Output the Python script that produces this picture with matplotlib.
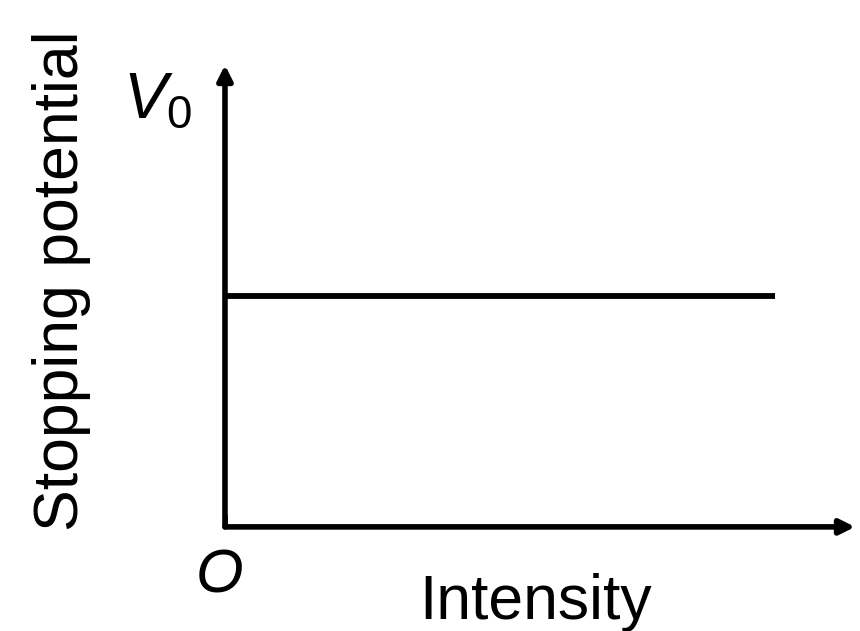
import matplotlib.pyplot as plt

plt.rcParams['font.family'] = ['Liberation Sans', 'DejaVu Sans']
plt.rcParams['mathtext.fontset'] = 'custom'
plt.rcParams['mathtext.it'] = 'Liberation Sans:italic'
plt.rcParams['mathtext.rm'] = 'Liberation Sans'

# stopping potential does not depend on intensity
intensita = [0.0, 1.0]
v0 = [0.5, 0.5]

fig = plt.figure(figsize=(8.6, 6.31), dpi=100)
fig.patch.set_facecolor('white')
ax = fig.add_axes([0.2616, 0.165, 0.7326, 0.732])
ax.set_xlim(0, 1.145)
ax.set_ylim(0, 1)
ax.axis('off')

ax.plot(intensita, v0, color='black', lw=4.2, solid_capstyle='butt')

# assi con freccia
ax.annotate('', xy=(0, 1.0), xytext=(0, 0), xycoords='axes fraction',
            arrowprops=dict(arrowstyle='-|>', color='black', lw=4.0,
                            mutation_scale=22, shrinkA=0, shrinkB=0))
ax.annotate('', xy=(1.0, 0), xytext=(0, 0), xycoords='axes fraction',
            arrowprops=dict(arrowstyle='-|>', color='black', lw=4.0,
                            mutation_scale=22, shrinkA=0, shrinkB=0))
ax.plot([0, 0], [0, 0.02], color='black', lw=4.0, solid_capstyle='projecting')

fig.text(0.072, 0.555, 'Stopping potential', rotation=90, fontsize=45,
         ha='center', va='center')
fig.text(0.143, 0.84, r'$V_{\mathrm{0}}$', fontsize=47, ha='left', va='center')
fig.text(0.255, 0.085, 'O', fontsize=44, style='italic', ha='center', va='center')
fig.text(0.488, 0.045, 'Intensity', fontsize=45, ha='left', va='center')

fig.savefig('out.png', dpi=100)
